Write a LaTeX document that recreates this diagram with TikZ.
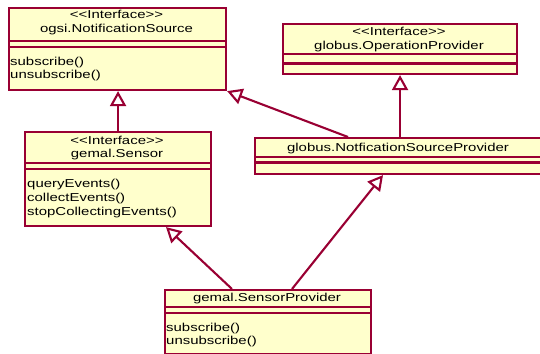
\documentclass[tikz,border=0pt]{standalone}
\usepackage{fontspec}
\setmainfont{Liberation Sans}[FakeStretch=1.3]
\usetikzlibrary{arrows.meta,calc}
\definecolor{umlline}{RGB}{153,0,51}
\definecolor{umlfill}{RGB}{255,255,204}
\begin{document}
\begin{tikzpicture}[x=1pt,y=-1pt,
  classbox/.style={draw=umlline,fill=umlfill,line width=2.1pt,inner sep=0pt,anchor=north west},
  sepline/.style={draw=umlline,line width=2.1pt},
  realize/.style={draw=umlline,line width=2.1pt,
    -{Triangle[open,fill=white,length=15pt,width=16pt]}},
  lbl/.style={inner sep=0pt,font=\fontsize{11.5}{14}\selectfont,anchor=base},
  op/.style={inner sep=0pt,font=\fontsize{11.5}{14}\selectfont,anchor=base west}]
\useasboundingbox (0,0) rectangle (540,353);

% class frames
\node[classbox,minimum width=217pt,minimum height=82pt] (ns) at (8,7) {};
\node[classbox,minimum width=234pt,minimum height=50pt] (opv) at (282,23) {};
\node[classbox,minimum width=186pt,minimum height=94pt] (sensor) at (24,131) {};
\node[classbox,minimum width=292pt,minimum height=36pt] (nsp) at (254,137) {};
\node[classbox,minimum width=206pt,minimum height=64pt] (sp) at (164,289) {};

% realization connectors
\draw[realize] (sensor.north) -- (sensor.north |- ns.south);
\draw[realize] ($(nsp.north west)+(94,0)$) -- (ns.south east);
\draw[realize] (nsp.north -| opv.south) -- (opv.south);
\draw[realize] ($(sp.north west)+(68,0)$) -- ($(sensor.south west)+(142,0)$);
\draw[realize] ($(sp.north west)+(128,0)$) -- ($(nsp.south west)+(129,0)$);

% compartment separators
\draw[sepline] (8,41) -- (225,41) (8,47) -- (225,47);
\draw[sepline] (282,54) -- (516,54) (282,63.5) -- (516,63.5);
\draw[sepline] (24,163) -- (210,163) (24,169) -- (210,169);
\draw[sepline] (254,157) -- (546,157) (254,162.5) -- (546,162.5);
\draw[sepline] (164,307) -- (370,307) (164,313) -- (370,313);

% ogsi.NotificationSource
\node[lbl] (nsst) at (116.5,18.5) {<{}<Interface>{}>};
\node[lbl] (nsname) at (116.5,33) {ogsi.NotificationSource};
\node[op] (nsop1) at (10,65) {subscribe()};
\node[op] (nsop2) at (10,78) {unsubscribe()};

% globus.OperationProvider
\node[lbl] (opst) at (399,35.5) {<{}<Interface>{}>};
\node[lbl] (opname) at (399,49) {globus.OperationProvider};

% gemal.Sensor
\node[lbl] (sest) at (117,144) {<{}<Interface>{}>};
\node[lbl] (sename) at (117,157) {gemal.Sensor};
\node[op] (seop1) at (27,187) {queryEvents()};
\node[op] (seop2) at (27,201) {collectEvents()};
\node[op] (seop3) at (27,215) {stopCollectingEvents()};

% globus.NotficationSourceProvider
\node[lbl] (nspname) at (398,151) {globus.NotficationSourceProvider};

% gemal.SensorProvider
\node[lbl] (spname) at (267,301) {gemal.SensorProvider};
\node[op] (spop1) at (166,331) {subscribe()};
\node[op] (spop2) at (166,344) {unsubscribe()};
\end{tikzpicture}
\end{document}
